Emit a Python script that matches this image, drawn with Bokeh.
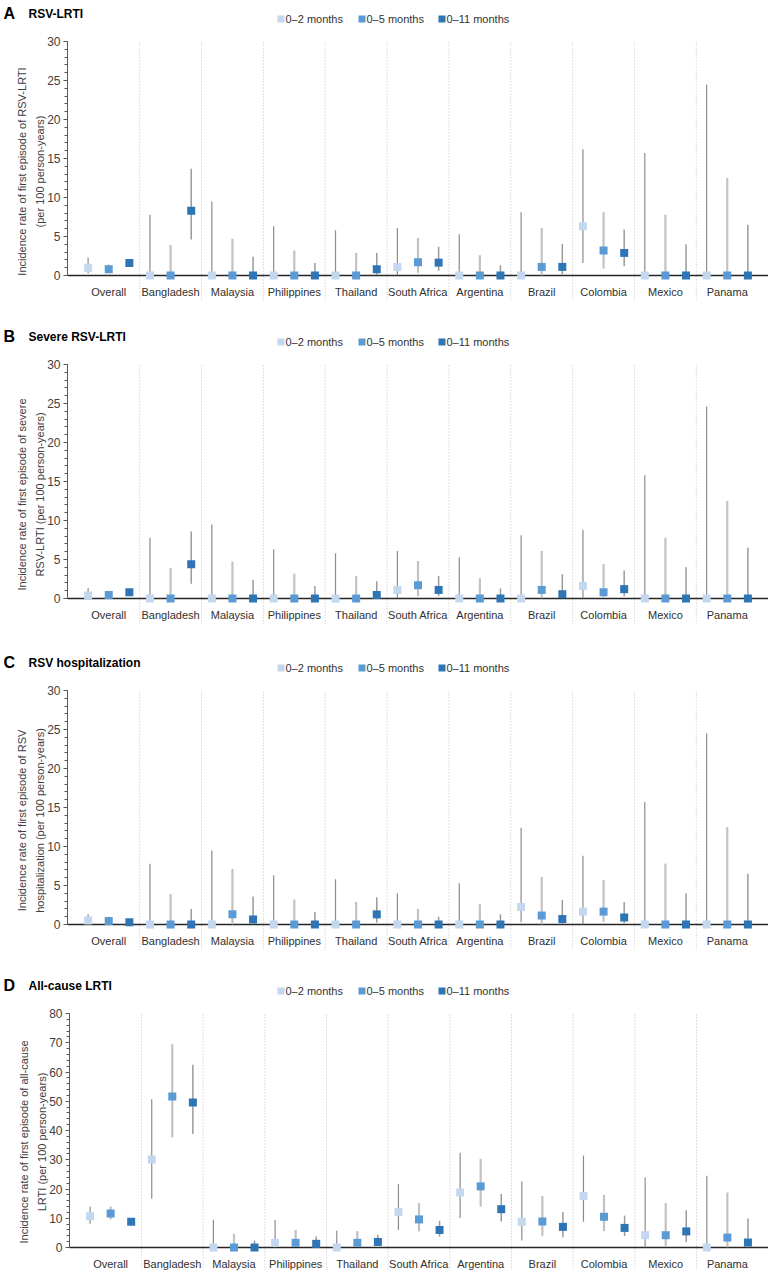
from bokeh.plotting import figure
from bokeh.layouts import column
from bokeh.models import Range1d, SingleIntervalTicker
from bokeh.core.properties import value
from bokeh.embed import file_html
from bokeh.resources import INLINE

# ---------------- data ----------------
COUNTRIES = ["Overall", "Bangladesh", "Malaysia", "Philippines", "Thailand", "South Africa",
             "Argentina", "Brazil", "Colombia", "Mexico", "Panama"]
SERIES = ["0–2 months", "0–5 months", "0–11 months"]

# Panel A: RSV-LRTI
A_est_02 = [1.0, 0, 0, 0, 0, 1.1, 0, 0, 6.3, 0, 0]
A_lo_02 = [0.3, 0, 0, 0, 0, 0.03, 0, 0, 1.6, 0, 0]
A_hi_02 = [2.3, 7.8, 9.5, 6.3, 5.8, 6.1, 5.3, 8.1, 16.2, 15.7, 24.5]
A_est_05 = [0.8, 0, 0, 0, 0, 1.7, 0, 1.1, 3.2, 0, 0]
A_lo_05 = [0.3, 0, 0, 0, 0, 0.35, 0, 0.03, 0.9, 0, 0]
A_hi_05 = [1.4, 3.9, 4.7, 3.2, 2.9, 4.8, 2.6, 6.1, 8.1, 7.8, 12.5]
A_est_11 = [1.6, 8.3, 0, 0, 0.8, 1.65, 0, 1.1, 2.9, 0, 0]
A_lo_11 = [1.2, 4.6, 0, 0, 0.1, 0.6, 0, 0.15, 1.2, 0, 0]
A_hi_11 = [2.0, 13.7, 2.4, 1.6, 2.9, 3.7, 1.3, 4.05, 5.9, 4.0, 6.5]

# Panel B: Severe RSV-LRTI
B_est_02 = [0.4, 0, 0, 0, 0, 1.1, 0, 0, 1.6, 0, 0]
B_lo_02 = [0.05, 0, 0, 0, 0, 0.03, 0, 0, 0.04, 0, 0]
B_hi_02 = [1.35, 7.8, 9.5, 6.3, 5.8, 6.1, 5.3, 8.1, 8.8, 15.8, 24.6]
B_est_05 = [0.45, 0, 0, 0, 0, 1.7, 0, 1.1, 0.8, 0, 0]
B_lo_05 = [0.15, 0, 0, 0, 0, 0.3, 0, 0.03, 0.1, 0, 0]
B_hi_05 = [1.0, 3.9, 4.7, 3.2, 2.9, 4.8, 2.6, 6.1, 4.4, 7.8, 12.5]
B_est_11 = [0.8, 4.4, 0, 0, 0.45, 1.1, 0, 0.55, 1.2, 0, 0]
B_lo_11 = [0.45, 1.9, 0, 0, 0.01, 0.3, 0, 0.05, 0.3, 0, 0]
B_hi_11 = [1.15, 8.6, 2.4, 1.6, 2.2, 2.9, 1.3, 3.1, 3.6, 4.0, 6.5]

# Panel C: RSV hospitalization
C_est_02 = [0.5, 0, 0, 0, 0, 0, 0, 2.25, 1.65, 0, 0]
C_lo_02 = [0.1, 0, 0, 0, 0, 0, 0, 0.3, 0.04, 0, 0]
C_hi_02 = [1.3, 7.8, 9.5, 6.3, 5.8, 4.0, 5.3, 12.4, 8.8, 15.7, 24.5]
C_est_05 = [0.45, 0, 1.3, 0, 0, 0, 0, 1.15, 1.65, 0, 0]
C_lo_05 = [0.2, 0, 0.03, 0, 0, 0, 0, 0.03, 0.35, 0, 0]
C_hi_05 = [1.0, 3.9, 7.1, 3.2, 2.9, 2.0, 2.6, 6.1, 5.7, 7.8, 12.5]
C_est_11 = [0.3, 0, 0.65, 0, 1.3, 0, 0, 0.7, 0.9, 0, 0]
C_lo_11 = [0.1, 0, 0.02, 0, 0.25, 0, 0, 0.1, 0.2, 0, 0]
C_hi_11 = [0.6, 2.0, 3.6, 1.6, 3.5, 1.0, 1.3, 3.15, 2.9, 4.0, 6.5]

# Panel D: All-cause LRTI
D_est_02 = [10.7, 30.1, 0, 1.6, 0, 12.2, 18.8, 8.8, 17.6, 4.2, 0]
D_lo_02 = [8.1, 16.7, 0, 0.04, 0, 6.0, 10.1, 2.4, 8.8, 0.05, 0]
D_hi_02 = [14.0, 50.7, 9.5, 9.4, 5.8, 21.7, 32.4, 22.6, 31.4, 23.9, 24.5]
D_est_05 = [11.6, 51.6, 0, 1.6, 1.6, 9.6, 20.9, 8.9, 10.5, 4.2, 3.4]
D_lo_05 = [9.6, 37.7, 0, 0.2, 0.2, 5.5, 14.0, 4.0, 5.6, 0.5, 0.1]
D_hi_05 = [14.0, 69.5, 4.7, 6.0, 5.6, 15.2, 30.3, 17.6, 18.0, 15.2, 18.8]
D_est_11 = [8.8, 49.6, 0, 1.25, 1.9, 6.0, 13.1, 7.05, 6.7, 5.5, 1.7]
D_lo_11 = [7.9, 38.8, 0, 0.1, 0.5, 3.75, 8.9, 3.5, 3.9, 1.8, 0.05]
D_hi_11 = [9.8, 62.5, 2.4, 3.75, 4.4, 9.1, 18.3, 12.1, 10.9, 12.7, 9.9]

# ---------------- style ----------------
FONT = "Liberation Sans"
COLORS = ["#c3d7ee", "#5b9bd5", "#2e75b6"]
BAR_COLORS = ["#8c8c8c", "#c2c2c2", "#9a9a9a"]
BAR_WIDTHS = [1.2, 2.2, 1.5]
PLOT_PX = 234      # pixel height from 0 to the top tick
WIDTH = 768
TOP_BORDER = 11
LEG_SQ_X = [280.5, 361.5, 441.5]   # legend square centres (px)


def make_header(letter, title, h):
    p = figure(width=WIDTH, height=h, output_backend="svg", toolbar_location=None,
               x_range=Range1d(0, WIDTH), y_range=Range1d(0, h),
               x_axis_location=None, y_axis_location=None, min_border=0, frame_align=False,
               outline_line_color=None, background_fill_color="white", border_fill_color="white")
    p.grid.visible = False
    p.text(x=[3], y=[17], text=[letter], text_font=value(FONT), text_font_size="16px",
           text_font_style="bold", text_baseline="middle", text_color="#000000")
    p.text(x=[28], y=[16.5], text=[title], text_font=value(FONT), text_font_size="12px",
           text_font_style="bold", text_baseline="middle", text_color="#000000")
    p.scatter(x=LEG_SQ_X, y=[11.5] * 3, marker="square", size=7, fill_color=COLORS, line_color=None)
    p.text(x=[x + 4.5 for x in LEG_SQ_X], y=[11.5] * 3, text=SERIES, text_font=value(FONT),
           text_font_size="11px", text_baseline="middle", text_color="#333333")
    return p


def make_panel(ylabel, ymax, tick, series, ext_bot, label_px, left_border):
    upp = ymax / PLOT_PX
    frame_h = PLOT_PX + ext_bot
    p = figure(width=WIDTH, height=TOP_BORDER + frame_h, output_backend="svg", toolbar_location=None,
               x_range=Range1d(-1, 33), y_range=Range1d(-ext_bot * upp, ymax),
               x_axis_location=None, min_border=0, min_border_left=left_border, min_border_right=0,
               min_border_top=TOP_BORDER, min_border_bottom=0, frame_align=False,
               outline_line_color=None, background_fill_color="white", border_fill_color="white")
    p.grid.visible = False

    yax = p.yaxis[0]
    yax.bounds = (0, ymax)
    yax.ticker = SingleIntervalTicker(interval=tick, num_minor_ticks=5)
    yax.axis_label = ylabel
    yax.axis_line_color = "#595959"
    yax.axis_line_width = 1
    yax.major_tick_out = 4
    yax.major_tick_in = 0
    yax.minor_tick_out = 3
    yax.minor_tick_in = 0
    yax.major_tick_line_color = "#595959"
    yax.minor_tick_line_color = "#595959"
    yax.major_label_text_font = FONT
    yax.major_label_text_font_size = "12px"
    yax.major_label_text_color = "#404040"
    yax.major_label_standoff = 3
    yax.axis_label_text_font = FONT
    yax.axis_label_text_font_size = "11px"
    yax.axis_label_text_font_style = "normal"
    yax.axis_label_text_color = "#404040"
    yax.axis_label_standoff = -2
    yax.axis_label_text_line_height = 1.5

    n = len(COUNTRIES)
    centers = [3 * i + 1 for i in range(n)]
    seps = [3 * i + 2.5 for i in range(n - 1)]

    # separators
    p.segment(x0=seps, x1=seps, y0=[-ext_bot * upp] * len(seps), y1=[ymax] * len(seps),
              line_color="#c4c4c4", line_width=1, line_dash="1 2")
    # baseline axis
    p.hspan(y=[0], line_color="#262626", line_width=1.5)

    # error bars + markers
    for j, (est, lo, hi) in enumerate(series):
        xs = [3 * i + j for i in range(n)]
        p.segment(x0=xs, x1=xs, y0=lo, y1=hi, line_color=BAR_COLORS[j], line_width=BAR_WIDTHS[j])
    for j, (est, lo, hi) in enumerate(series):
        xs = [3 * i + j for i in range(n)]
        p.scatter(x=xs, y=est, marker="square", size=8, fill_color=COLORS[j], line_color=None)

    # category labels
    p.text(x=centers, y=[-label_px * upp] * n, text=COUNTRIES, text_align="center",
           text_baseline="middle", text_font=value(FONT), text_font_size="11px", text_color="#303030")
    return p


hA = make_header("A", "RSV-LRTI", 30)
pA = make_panel("Incidence rate of first episode of RSV-LRTI\n(per 100 person-years)", 30, 5,
                [(A_est_02, A_lo_02, A_hi_02), (A_est_05, A_lo_05, A_hi_05), (A_est_11, A_lo_11, A_hi_11)],
                26, 16, 67)
hB = make_header("B", "Severe RSV-LRTI", 52)
pB = make_panel("Incidence rate of first episode of severe\nRSV-LRTI (per 100 person-years)", 30, 5,
                [(B_est_02, B_lo_02, B_hi_02), (B_est_05, B_lo_05, B_hi_05), (B_est_11, B_lo_11, B_hi_11)],
                26, 16, 67)
hC = make_header("C", "RSV hospitalization", 55)
pC = make_panel("Incidence rate of first episode of RSV\nhospitalization (per 100 person-years)", 30, 5,
                [(C_est_02, C_lo_02, C_hi_02), (C_est_05, C_lo_05, C_hi_05), (C_est_11, C_lo_11, C_hi_11)],
                26, 16, 67)
hD = make_header("D", "All-cause LRTI", 52)
pD = make_panel("Incidence rate of first episode of all-cause\nLRTI (per 100 person-years)", 80, 10,
                [(D_est_02, D_lo_02, D_hi_02), (D_est_05, D_lo_05, D_hi_05), (D_est_11, D_lo_11, D_hi_11)],
                23, 16, 69)

layout = column(hA, pA, hB, pB, hC, pC, hD, pD, spacing=0)
open("out.html", "w").write(file_html(layout, INLINE, title="Incidence rates"))
